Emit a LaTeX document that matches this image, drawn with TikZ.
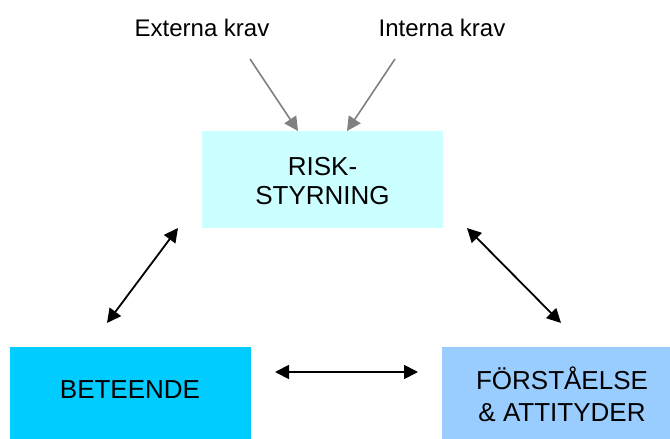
\documentclass[tikz,border=0pt]{standalone}
\usepackage{fontspec}
\setmainfont{Liberation Sans}
\usetikzlibrary{arrows.meta}
\definecolor{riskcol}{HTML}{CCFFFF}
\definecolor{behcol}{HTML}{00CCFF}
\definecolor{attcol}{HTML}{99CCFF}
\definecolor{graycol}{HTML}{808080}
\tikzset{
  boxshape/.style={rectangle, draw=none, inner sep=0pt, anchor=north west},
  boxtext/.style={font=\fontsize{26}{30}\selectfont, align=center, inner sep=0pt, anchor=base},
  labeltext/.style={font=\fontsize{24}{28}\selectfont, inner sep=0pt, anchor=base},
  grayarrow/.style={draw=graycol, line width=1.6pt, -{Triangle[length=14pt,width=14pt]}},
  blackarrow/.style={draw=black, line width=1.8pt, {Triangle[length=14pt,width=14pt]}-{Triangle[length=14pt,width=14pt]}}
}
\begin{document}
\begin{tikzpicture}[x=1pt,y=-1pt]
\useasboundingbox (0,0) rectangle (670,439);
% boxes
\node[boxshape, fill=riskcol, minimum width=241pt, minimum height=97pt] (risk) at (202,131) {};
\node[boxshape, fill=behcol, minimum width=241pt, minimum height=95pt] (beh) at (10,347) {};
\node[boxshape, fill=attcol, minimum width=230pt, minimum height=95pt] (att) at (442,347) {};
% texts
\node[boxtext, font=\fontsize{26}{29}\selectfont] (riskt) at (322.5,204) {RISK-\\STYRNING};
\node[boxtext] (beht) at (130,398) {BETEENDE};
\node[boxtext, font=\fontsize{26}{32}\selectfont] (attt) at (562,421) {FÖRSTÅELSE\\\& ATTITYDER};
\node[labeltext] (ext) at (202,36) {Externa krav};
\node[labeltext] (int) at (442,36) {Interna krav};
% arrow end points
\coordinate (extS) at (250,59);
\coordinate (extE) at (298,131);
\coordinate (intS) at (395,59);
\coordinate (intE) at (347,131);
\coordinate (lA) at (107,323);
\coordinate (lB) at (178,228);
\coordinate (rA) at (467,228);
\coordinate (rB) at (561,323);
\coordinate (hA) at (275,372);
\coordinate (hB) at (418,372);
\draw[grayarrow] (extS) -- (extE);
\draw[grayarrow] (intS) -- (intE);
\draw[blackarrow] (lA) -- (lB);
\draw[blackarrow] (rA) -- (rB);
\draw[blackarrow] (hA) -- (hB);
\end{tikzpicture}
\end{document}
